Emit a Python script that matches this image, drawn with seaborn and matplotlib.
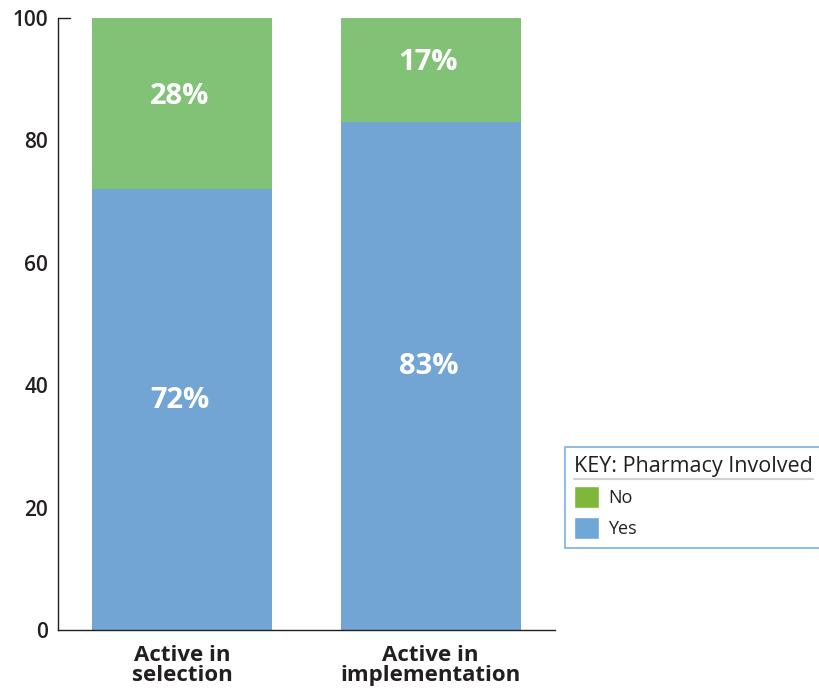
import matplotlib
matplotlib.use("Agg")
import matplotlib.pyplot as plt
import seaborn as sns
import pandas as pd
from matplotlib.patches import Patch
from matplotlib.lines import Line2D

# données
categories = ["Active in\nselection", "Active in\nimplementation"]
yes_pct = [72, 83]
no_pct = [28, 17]
yticks = [0, 20, 40, 60, 80, 100]

green = "#82C277"
blue = "#72A5D4"
green_key = "#7DB83A"
blue_key = "#6FA7D6"

df = pd.DataFrame({"cat": categories, "Yes": yes_pct, "No": no_pct})
df["total"] = df["Yes"] + df["No"]

sns.set_style("white")
plt.rcParams["font.family"] = ["Open Sans", "DejaVu Sans"]

fig = plt.figure(figsize=(8.19, 6.93), dpi=100)
ax = fig.add_axes([58 / 819, 63 / 693, 497 / 819, 612 / 693])

# barres empilées : total (vert) puis "Yes" (bleu) par-dessus
sns.barplot(data=df, x="cat", y="total", color=green, width=0.725,
            saturation=1, linewidth=0, ax=ax)
sns.barplot(data=df, x="cat", y="Yes", color=blue, width=0.725,
            saturation=1, linewidth=0, ax=ax)

# étiquettes en pourcentage
for i, (y, n) in enumerate(zip(yes_pct, no_pct)):
    ax.text(i - 0.01, y / 2 + 1.5, f"{y}%", ha="center", va="center",
            color="white", fontsize=21, fontweight="bold")
    ax.text(i - 0.01, y + n / 2 + 1.2, f"{n}%", ha="center", va="center",
            color="white", fontsize=21, fontweight="bold")

ax.set_xlim(-0.5, 1.5)
ax.set_ylim(0, 100)
ax.set_yticks(yticks)
ax.set_yticklabels([str(t) for t in yticks], fontsize=15, fontweight="semibold",
                   color="#231f20")
ax.tick_params(axis="y", length=0, pad=7)
ax.tick_params(axis="x", length=0, pad=11)
for lab in ax.get_xticklabels():
    lab.set_fontsize(16)
    lab.set_fontweight("bold")
    lab.set_color("#231f20")
    lab.set_linespacing(0.95)
ax.set_xlabel("")
ax.set_ylabel("")

for s in ["top", "right"]:
    ax.spines[s].set_visible(False)
for s in ["left", "bottom"]:
    ax.spines[s].set_color("#231f20")
    ax.spines[s].set_linewidth(1.0)
ax.plot([-0.5, -0.45], [100, 100], color="#231f20", lw=1.0, clip_on=False)

# légende (clé)
handles = [Patch(facecolor=green_key, label="No"),
           Patch(facecolor=blue_key, label="Yes")]
leg = fig.legend(handles=handles, title="KEY: Pharmacy Involved",
                 loc="upper left", bbox_to_anchor=(565 / 819, 1 - 447 / 693),
                 borderaxespad=0, frameon=True, fancybox=False, fontsize=13,
                 title_fontsize=15.5, handlelength=1.4, handleheight=1.5,
                 handletextpad=0.5, labelspacing=0.5, borderpad=0.5,
                 alignment="left")
leg.get_frame().set_edgecolor("#5B9BD5")
leg.get_frame().set_linewidth(1.2)
leg.get_title().set_color("#231f20")
for t in leg.get_texts():
    t.set_color("#231f20")

fig.canvas.draw()
bb = leg.get_title().get_window_extent().transformed(fig.transFigure.inverted())
fig.add_artist(Line2D([bb.x0, bb.x1], [bb.y0 - 0.003, bb.y0 - 0.003],
                      color="#231f20", lw=1.5, transform=fig.transFigure))

fig.savefig("out.png", dpi=100)
